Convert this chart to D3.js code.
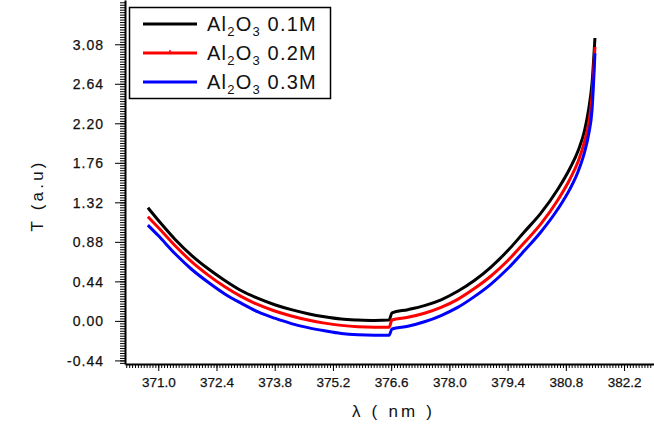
<!DOCTYPE html>
<html>
<head>
<meta charset="utf-8">
<script src="https://cdn.jsdelivr.net/npm/d3@7"></script>
<style>
	body{margin:0;background:#fff}
	svg text{font-family:"Liberation Sans",Arial,sans-serif;fill:#111}
</style>
</head>
<body>
<div id="my_dataviz"></div>
<script>

// wavelength (nm), shared by the three series
var wavelength=[370.75,371.0,371.4,371.8,372.2,372.6,373.0,373.4,373.8,374.2,374.6,375.0,375.4,375.8,376.2,376.55,
	376.62,377.0,377.4,377.8,378.2,378.6,379.0,379.4,379.8,380.2,380.6,380.9,381.1,381.25,381.35,381.43,381.5]

var t01=[1.26,1.12,0.91,0.73,0.58,0.45,0.335,0.25,0.18,0.125,0.08,0.045,0.02,0.01,0.005,0.01,
	0.09,0.125,0.17,0.235,0.33,0.45,0.60,0.78,0.99,1.20,1.46,1.70,1.90,2.12,2.36,2.65,3.15]
var t02=[1.16,1.04,0.84,0.66,0.51,0.38,0.27,0.18,0.11,0.055,0.01,-0.025,-0.05,-0.065,-0.07,-0.07,
	0.01,0.04,0.085,0.15,0.24,0.36,0.50,0.67,0.87,1.08,1.34,1.58,1.78,2.00,2.20,2.50,3.05]
var t03=[1.067,0.95,0.75,0.575,0.43,0.30,0.195,0.10,0.03,-0.03,-0.075,-0.11,-0.14,-0.155,-0.16,-0.16,
	-0.09,-0.06,-0.01,0.06,0.15,0.27,0.41,0.58,0.78,0.99,1.24,1.47,1.67,1.88,2.08,2.35,2.98]

var seriesNames=["0.1M","0.2M","0.3M"]
var seriesColors=["#000000","#ff0000","#0000ff"]

var xTicks=[371.0,372.4,373.8,375.2,376.6,378.0,379.4,380.8,382.2]
var yTicks=[-0.44,0.00,0.44,0.88,1.32,1.76,2.20,2.64,3.08]

var W=654,H=430

var svg=d3.select("#my_dataviz").append("svg")
	.attr("width",W)
	.attr("height",H)

// the frame of the original runs past the top and right edges of the picture
var xScale=d3.scaleLinear().domain([370.2,382.92]).range([125,654])
var yScale=d3.scaleLinear().domain([-0.48,3.573]).range([364,0])

// minor ticks first, majors on top
var xMinor=d3.range(-12,170).map(i=>371+i*0.07).filter(v=>v>xScale.domain()[0]&&v<xScale.domain()[1])
var yMinor=d3.range(-2,150).map(i=>-0.44+i*0.0275).filter(v=>v>yScale.domain()[0]&&v<yScale.domain()[1])

svg.append("g")
	.attr("transform","translate(0,364)")
	.call(d3.axisBottom(xScale).tickValues(xMinor).tickSize(4).tickSizeOuter(0).tickFormat(""))
	.call(g=>g.select(".domain").remove())

svg.append("g")
	.attr("transform","translate(125,0)")
	.call(d3.axisLeft(yScale).tickValues(yMinor).tickSize(5).tickSizeOuter(0).tickFormat(""))
	.call(g=>g.select(".domain").remove())

var xAxis=svg.append("g")
	.attr("class","x axis")
	.attr("transform","translate(0,364)")
	.call(d3.axisBottom(xScale).tickValues(xTicks).tickSize(7).tickSizeOuter(0).tickPadding(6).tickFormat(d3.format(".1f")))
xAxis.selectAll("text").style("font-size","13.5px").attr("fill","#111")
	.attr("stroke","#111").attr("stroke-width",0.25)

var yAxis=svg.append("g")
	.attr("class","y axis")
	.attr("transform","translate(125,0)")
	.call(d3.axisLeft(yScale).tickValues(yTicks).tickSize(10).tickSizeOuter(0).tickPadding(11)
		.tickFormat(d=>d3.format(".2f")(d).replace("\u2212","-")))
yAxis.selectAll("text").style("font-size","14px").style("letter-spacing","1px").attr("fill","#111").attr("dy","0.35em")
	.attr("stroke","#111").attr("stroke-width",0.25)

svg.selectAll(".domain").attr("stroke","#000").attr("stroke-width",2)
svg.selectAll(".tick line").attr("stroke","#000").attr("stroke-width",1)

// axis titles
svg.append("text")
	.attr("x",392).attr("y",417)
	.attr("text-anchor","middle")
	.attr("textLength",80).attr("lengthAdjust","spacing")
	.style("font-size","17px")
	.text("λ  ( nm )")

svg.append("text")
	.attr("transform","translate(43,197) rotate(-90)")
	.attr("text-anchor","middle")
	.attr("textLength",69).attr("lengthAdjust","spacing")
	.style("font-size","17px")
	.text("T (a.u)")

// curves
var line=d3.line()
	.x((d,i)=>xScale(wavelength[i]))
	.y(d=>yScale(d))
	.curve(d3.curveMonotoneX)

var allSeries=[t01,t02,t03]
allSeries.forEach(function(s,k){
	svg.append("path")
		.datum(s)
		.attr("class","line")
		.attr("fill","none")
		.attr("stroke",seriesColors[k])
		.attr("stroke-width",3)
		.attr("stroke-linejoin","round")
		.attr("d",line)
})

// legend
var legend=svg.append("g").attr("class","legend")
legend.append("rect")
	.attr("x",129.5).attr("y",7.5)
	.attr("width",201).attr("height",91)
	.attr("fill","#fff")
	.attr("stroke","#000")
	.attr("stroke-width",1.5)

seriesNames.forEach(function(n,k){
	var ly=24+k*29
	legend.append("line")
		.attr("x1",143).attr("x2",197)
		.attr("y1",ly).attr("y2",ly)
		.attr("stroke",seriesColors[k])
		.attr("stroke-width",3)
	var t=legend.append("text")
		.attr("x",207).attr("y",ly+7)
		.style("font-size","20px")
		.style("letter-spacing","1.2px")
	t.append("tspan").text("Al")
	t.append("tspan").attr("dy",5).style("font-size","13px").text("2")
	t.append("tspan").attr("dy",-5).text("O")
	t.append("tspan").attr("dy",5).style("font-size","13px").text("3")
	t.append("tspan").attr("dy",-5).text(" "+n)
})
// little marker on the red legend line
legend.append("line")
	.attr("x1",170).attr("x2",170)
	.attr("y1",50).attr("y2",53)
	.attr("stroke","#ff0000")
	.attr("stroke-width",1.5)

</script>
</body>
</html>
